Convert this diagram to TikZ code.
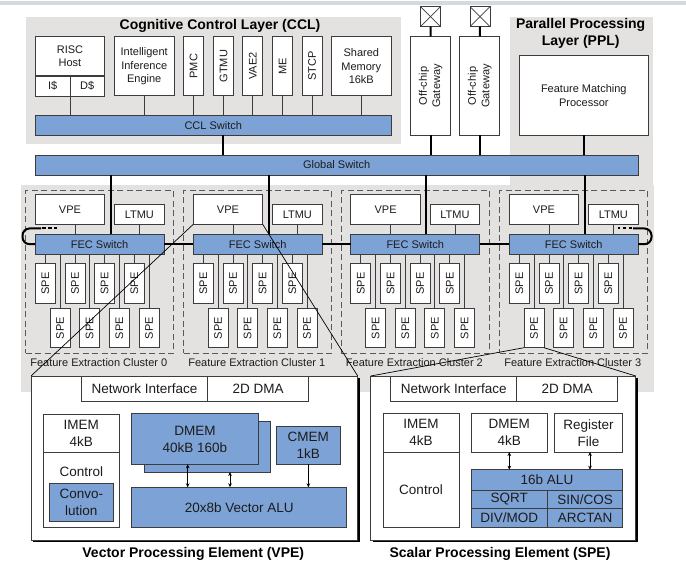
\documentclass[tikz,border=0pt]{standalone}
\usepackage{fontspec}
\setmainfont{Liberation Sans}
\definecolor{layerbg}{HTML}{E3E2E0}
\definecolor{stripbg}{HTML}{D6D9DB}
\definecolor{swblue}{HTML}{7DA2D6}
\definecolor{edge}{HTML}{3C3C3C}
\definecolor{ink}{HTML}{1C1C1C}
\usetikzlibrary{arrows.meta, shadows}
\newcommand{\smalltxt}{\fontsize{11}{13.4}\selectfont}
\newcommand{\bigtxt}{\fontsize{13.5}{17}\selectfont}
\newcommand{\headtxt}{\fontsize{14}{16.7}\selectfont\bfseries}
\tikzset{
  box/.style={
    draw=edge, fill=#1, line width=0.9pt, inner sep=0pt, outer sep=0pt,
    font=\smalltxt, text=ink, align=center
  },
  box/.default=white,
  bbox/.style={box=#1, font=\bigtxt},
  bbox/.default=white,
  vbox/.style={box, rotate=90},
  pad/.style={
    box, minimum width=20pt, minimum height=20pt,
    path picture={
      \draw[edge, line width=0.7pt] (path picture bounding box.north west) -- (path picture bounding box.south east);
      \draw[edge, line width=0.7pt] (path picture bounding box.north east) -- (path picture bounding box.south west);
    }
  },
  zone/.style={draw=edge!85, line width=0.9pt, dash pattern=on 6pt off 3.5pt, inner sep=0pt},
  detail/.style={
    box, line width=1pt, minimum height=164pt,
    drop shadow={shadow xshift=2.4pt, shadow yshift=-2.4pt, fill=black, opacity=1}
  },
  wire/.style={draw=edge, line width=0.9pt},
  bus/.style={black, line width=2pt},
  zoomln/.style={black, line width=0.7pt},
  arr/.style={-{Stealth[length=4pt,width=3.6pt]}, black, line width=0.7pt},
  darr/.style={{Stealth[length=4pt,width=3.6pt]}-{Stealth[length=4pt,width=3.6pt]}, black, line width=0.7pt},
  lbl/.style={font=\smalltxt, text=ink, inner sep=0pt},
  hdr/.style={font=\headtxt, text=black, inner sep=0pt, align=center},
}
\begin{document}
\begin{tikzpicture}[x=1pt, y=-1pt]
    \useasboundingbox (0,0) rectangle (686,567);

    \fill[stripbg] (0,1) rectangle (686,5);
    \fill[layerbg] (26,17) rectangle (401,144);
    \fill[layerbg] (510,17) rectangle (653,186);
    \fill[layerbg] (21,185) rectangle (654,392);

    \node[hdr] (cclhdr) at (220,26) {Cognitive Control Layer (CCL)};
    \node[hdr] (pplhdr) at (580.7,33.3) {Parallel Processing\\[0.5pt]Layer (PPL)};

    % cognitive control layer
    \node[box, minimum width=69pt, minimum height=39.5pt] (risc) at (70,56.2) {RISC\\Host};
    \node[box, minimum width=34.5pt, minimum height=20pt] (icache) at (52.75,86) {I\$};
    \node[box, minimum width=34.5pt, minimum height=20pt] (dcache) at (87.25,86) {D\$};
    \node[box, minimum width=59.5pt, minimum height=59.5pt] (iie) at (144.2,66.2) {Intelligent\\Inference\\Engine};
    \node[vbox, minimum width=59.5pt, minimum height=20pt] (pmc) at (193.5,66.2) {PMC};
    \node[vbox, minimum width=59.5pt, minimum height=20pt] (gtmu) at (223.5,66.2) {GTMU};
    \node[vbox, minimum width=59.5pt, minimum height=20pt] (vaetwo) at (252.9,66.2) {VAE2};
    \node[vbox, minimum width=59.5pt, minimum height=20pt] (me) at (282.5,66.2) {ME};
    \node[vbox, minimum width=59.5pt, minimum height=20pt] (stcp) at (312,66.2) {STCP};
    \node[box, minimum width=59.5pt, minimum height=59.5pt] (shmem) at (361.3,66.2) {Shared\\Memory\\16kB};
    \node[box=swblue, minimum width=355.5pt, minimum height=20pt] (cclsw) at (213.25,125.5) {CCL Switch};
    \node[box=swblue, minimum width=602.5pt, minimum height=20pt] (gsw) at (336.75,165) {Global Switch};

    \draw[wire] (icache.south east) -- (icache.south east |- cclsw.north);
    \draw[wire] (iie.south) -- (iie.south |- cclsw.north);
    \draw[wire] (shmem.south) -- (shmem.south |- cclsw.north);
    \foreach \n in {pmc,gtmu,vaetwo,me,stcp}
      \draw[wire] (\n.west) -- (\n.west |- cclsw.north);
    \draw[bus] ([xshift=9.5pt]cclsw.south) -- ([xshift=9.5pt]cclsw.south |- gsw.north);

    % off-chip and parallel processing
    \node[vbox, minimum width=99pt, minimum height=40pt] (gwa) at (430.7,86) {Off-chip\\Gateway};
    \node[vbox, minimum width=99pt, minimum height=40pt] (gwb) at (479.8,86) {Off-chip\\Gateway};
    \node[pad] (pada) at (430.5,16.7) {};
    \node[pad] (padb) at (480,16.7) {};
    \node[box, minimum width=129pt, minimum height=79.5pt] (fmp) at (583.8,95.7) {Feature Matching\\Processor};
    \draw[bus] (pada) -- (gwa);
    \draw[bus] (padb) -- (gwb);
    \draw[bus] (gwa.west) -- (gwa.west |- gsw.north);
    \draw[bus] (gwb.west) -- (gwb.west |- gsw.north);
    \draw[bus] (fmp.south) -- (fmp.south |- gsw.north);

    % feature extraction clusters
    \foreach \c/\dx in {0/0,1/158,2/315.6,3/474} {
      \node[zone, minimum width=148pt, minimum height=162.7pt] (zone\c) at ({\dx+99.7},271.7) {};
      \node[box=swblue, minimum width=128.7pt, minimum height=19.7pt] (fec\c) at ({\dx+99.65},244.15) {FEC Switch};
      \node[box, minimum width=69.4pt, minimum height=29.6pt] (vpe\c) at ({\dx+70},209.5) {VPE};
      \node[box, minimum width=49.3pt, minimum height=20pt] (ltmu\c) at ({\dx+139.35},214.3) {LTMU};
      \node[lbl] (lab\c) at ({\dx+98.8},362.3) {Feature Extraction Cluster \c};
      \draw[wire] ([xshift=5pt]vpe\c.south) -- ([xshift=5pt]vpe\c.south |- fec\c.north);
      \draw[wire] (ltmu\c.south) -- (ltmu\c.south |- fec\c.north);
      \draw[bus] ([xshift=11pt]fec\c.north) -- ([xshift=11pt]fec\c.north |- gsw.south);
      \foreach \i/\sx in {0/45.3,1/75,2/104.6,3/134.3} {
        \node[vbox, minimum width=39.6pt, minimum height=20pt] (spe\c t\i) at ({\dx+\sx},283.5) {SPE};
        \draw[wire] (spe\c t\i.east) -- (spe\c t\i.east |- fec\c.south);
      }
      \foreach \i/\sx in {0/60,1/89.7,2/119.3,3/149} {
        \node[vbox, minimum width=39.4pt, minimum height=20pt] (spe\c b\i) at ({\dx+\sx},328) {SPE};
        \draw[wire] (spe\c b\i.east) -- (spe\c b\i.east |- fec\c.south);
      }
    }
    \foreach \a/\b in {0/1,1/2,2/3}
      \draw[bus] (fec\a) -- (fec\b);

    % ring ends
    \coordinate (ringl) at (22.5,228.5);
    \coordinate (ringlend) at (57,228.5);
    \coordinate (ringr) at (651.5,228.5);
    \coordinate (ringrend) at (617.5,228.5);
    \draw[bus, rounded corners=7pt] (fec0.west) -- (ringl |- fec0.west) -- (ringl) -- (41,228.5);
    \draw[bus, dash pattern=on 3.5pt off 2.5pt] (42,228.5) -- (ringlend);
    \draw[bus, rounded corners=7pt] (fec3.east) -- (ringr |- fec3.east) -- (ringr) -- (633,228.5);
    \draw[bus, dash pattern=on 3.5pt off 2.5pt] (632,228.5) -- (ringrend);

    % zoom lines
    \node[detail, minimum width=326.7pt] (vpedet) at (194.35,458) {};
    \node[detail, minimum width=265pt] (spedet) at (503.2,458) {};
    \draw[zoomln] (vpe1.south east) -- (vpedet.north east);
    \draw[zoomln] (vpe1.south west) -- (vpedet.north west);
    \draw[zoomln] (spe3b0.north west) -- (spedet.north west);
    \draw[zoomln] (spe3b0.south west) -- (spedet.north east);

    % vector processing element
    \node[bbox, minimum width=126.4pt, minimum height=25pt] (vnet) at (144.5,388.5) {Network Interface};
    \node[bbox, minimum width=101pt, minimum height=25pt] (vdma) at (258.2,388.5) {2D DMA};
    \node[bbox, minimum width=76pt, minimum height=38.3pt] (vimem) at (81.3,433.15) {IMEM\\4kB};
    \node[bbox, minimum width=76pt, minimum height=75pt, text depth=36pt] (vctrl) at (81.3,489.8) {Control};
    \node[bbox=swblue, minimum width=63.3pt, minimum height=38.3pt] (conv) at (81.35,502.15) {Convo-\\lution};
    \node[bbox=swblue, minimum width=126pt, minimum height=51pt] (dmemb) at (207.7,446.5) {};
    \node[bbox=swblue, minimum width=126.6pt, minimum height=50.6pt] (dmem) at (195,439) {DMEM\\40kB 160b};
    \node[bbox=swblue, minimum width=63.3pt, minimum height=38pt] (cmem) at (308.35,445.3) {CMEM\\1kB};
    \node[bbox=swblue, minimum width=215pt, minimum height=40pt] (valu) at (239.2,507.3) {20x8b Vector ALU};
    \draw[darr] (dmem.south -| 187.7,0) -- (valu.north -| 187.7,0);
    \draw[darr] (dmemb.south -| 230,0) -- (valu.north -| 230,0);
    \draw[arr] (cmem.south) -- (cmem.south |- valu.north);
    \node[hdr] (vpehdr) at (193.3,554) {Vector Processing Element (VPE)};

    % scalar processing element
    \node[bbox, minimum width=126pt, minimum height=25pt] (snet) at (453.7,388.5) {Network Interface};
    \node[bbox, minimum width=101pt, minimum height=25pt] (sdma) at (567.2,388.5) {2D DMA};
    \node[bbox, minimum width=76pt, minimum height=38.3pt] (simem) at (421,432.85) {IMEM\\4kB};
    \node[bbox, minimum width=76pt, minimum height=75.3pt] (sctrl) at (421,489.65) {Control};
    \node[bbox, minimum width=76pt, minimum height=38.3pt] (sdmem) at (509.3,432.85) {DMEM\\4kB};
    \node[bbox, minimum width=68.4pt, minimum height=38.3pt] (sreg) at (588.5,432.85) {Register\\File};
    \node[bbox=swblue, minimum width=151.4pt, minimum height=20.3pt] (salu) at (547,479.85) {16b ALU};
    \node[bbox=swblue, minimum width=76pt, minimum height=18.7pt] (sqrt) at (509.3,499.35) {SQRT};
    \node[bbox=swblue, minimum width=75.4pt, minimum height=18.7pt] (sincos) at (585,499.35) {SIN/COS};
    \node[bbox=swblue, minimum width=76pt, minimum height=18.6pt] (divmod) at (509.3,518) {DIV/MOD};
    \node[bbox=swblue, minimum width=75.4pt, minimum height=18.6pt] (arctan) at (585,518) {ARCTAN};
    \draw[darr] (sdmem.south) -- (sdmem.south |- salu.north);
    \draw[darr] (sreg.south -| 590,0) -- (salu.north -| 590,0);
    \node[hdr] (spehdr) at (500,554) {Scalar Processing Element (SPE)};
\end{tikzpicture}
\end{document}
